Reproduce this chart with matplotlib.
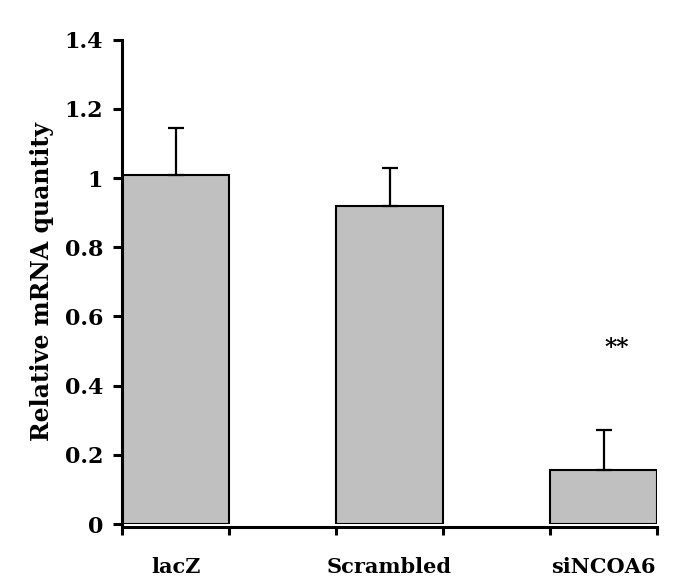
import numpy as np
import matplotlib
matplotlib.use('Agg')
import matplotlib.pyplot as plt

# data
groups = ['lacZ', 'Scrambled', 'siNCOA6']
means = [1.01, 0.918, 0.156]
err_up = [0.135, 0.112, 0.116]
star_text = '**'
star_y = 0.51
yticks = [0, 0.2, 0.4, 0.6, 0.8, 1.0, 1.2, 1.4]
ytick_labels = ['0', '0.2', '0.4', '0.6', '0.8', '1', '1.2', '1.4']

plt.rcParams['font.family'] = ['DejaVu Serif']
plt.rcParams['font.weight'] = 'bold'

fig = plt.figure(figsize=(6.89, 5.83), dpi=100)
ax = fig.add_axes([0.1771, 0.1012, 0.7765, 0.8308])

# bars sit in every other slot, slot edges are the x ticks
x = np.arange(len(groups)) * 2 + 0.5
ax.bar(x, means, width=1.0, color='#c0c0c0', edgecolor='black', linewidth=1.5, zorder=2)
ax.errorbar(x, means, yerr=[np.zeros(len(means)), err_up], fmt='none',
            ecolor='black', elinewidth=1.6, capsize=5.5, capthick=1.6, zorder=3)

ax.text(x[2] + 0.12, star_y, star_text, ha='center', va='center', fontsize=17, fontweight='bold')

ax.set_xlim(0, 5)
ax.set_ylim(0, 1.4)
ax.set_xticks(np.arange(0, 6))
ax.set_xticklabels([])
ax.set_xticks(x, minor=True)
ax.set_xticklabels(groups, minor=True)
ax.tick_params(axis='x', which='minor', length=0, pad=22, labelsize=15)
ax.tick_params(axis='x', which='major', direction='out', length=6, width=2.2)
ax.set_yticks(yticks)
ax.set_yticklabels(ytick_labels)
ax.tick_params(axis='y', direction='out', length=6.5, width=2.2, pad=7, labelsize=16)

ax.set_ylabel('Relative mRNA quantity', fontsize=17, fontweight='bold', labelpad=8)

for s in ['top', 'right']:
    ax.spines[s].set_visible(False)
ax.spines['left'].set_linewidth(2.2)
ax.spines['bottom'].set_linewidth(2.2)
ax.spines['bottom'].set_position(('outward', 2))

fig.savefig('out.png', dpi=100)
